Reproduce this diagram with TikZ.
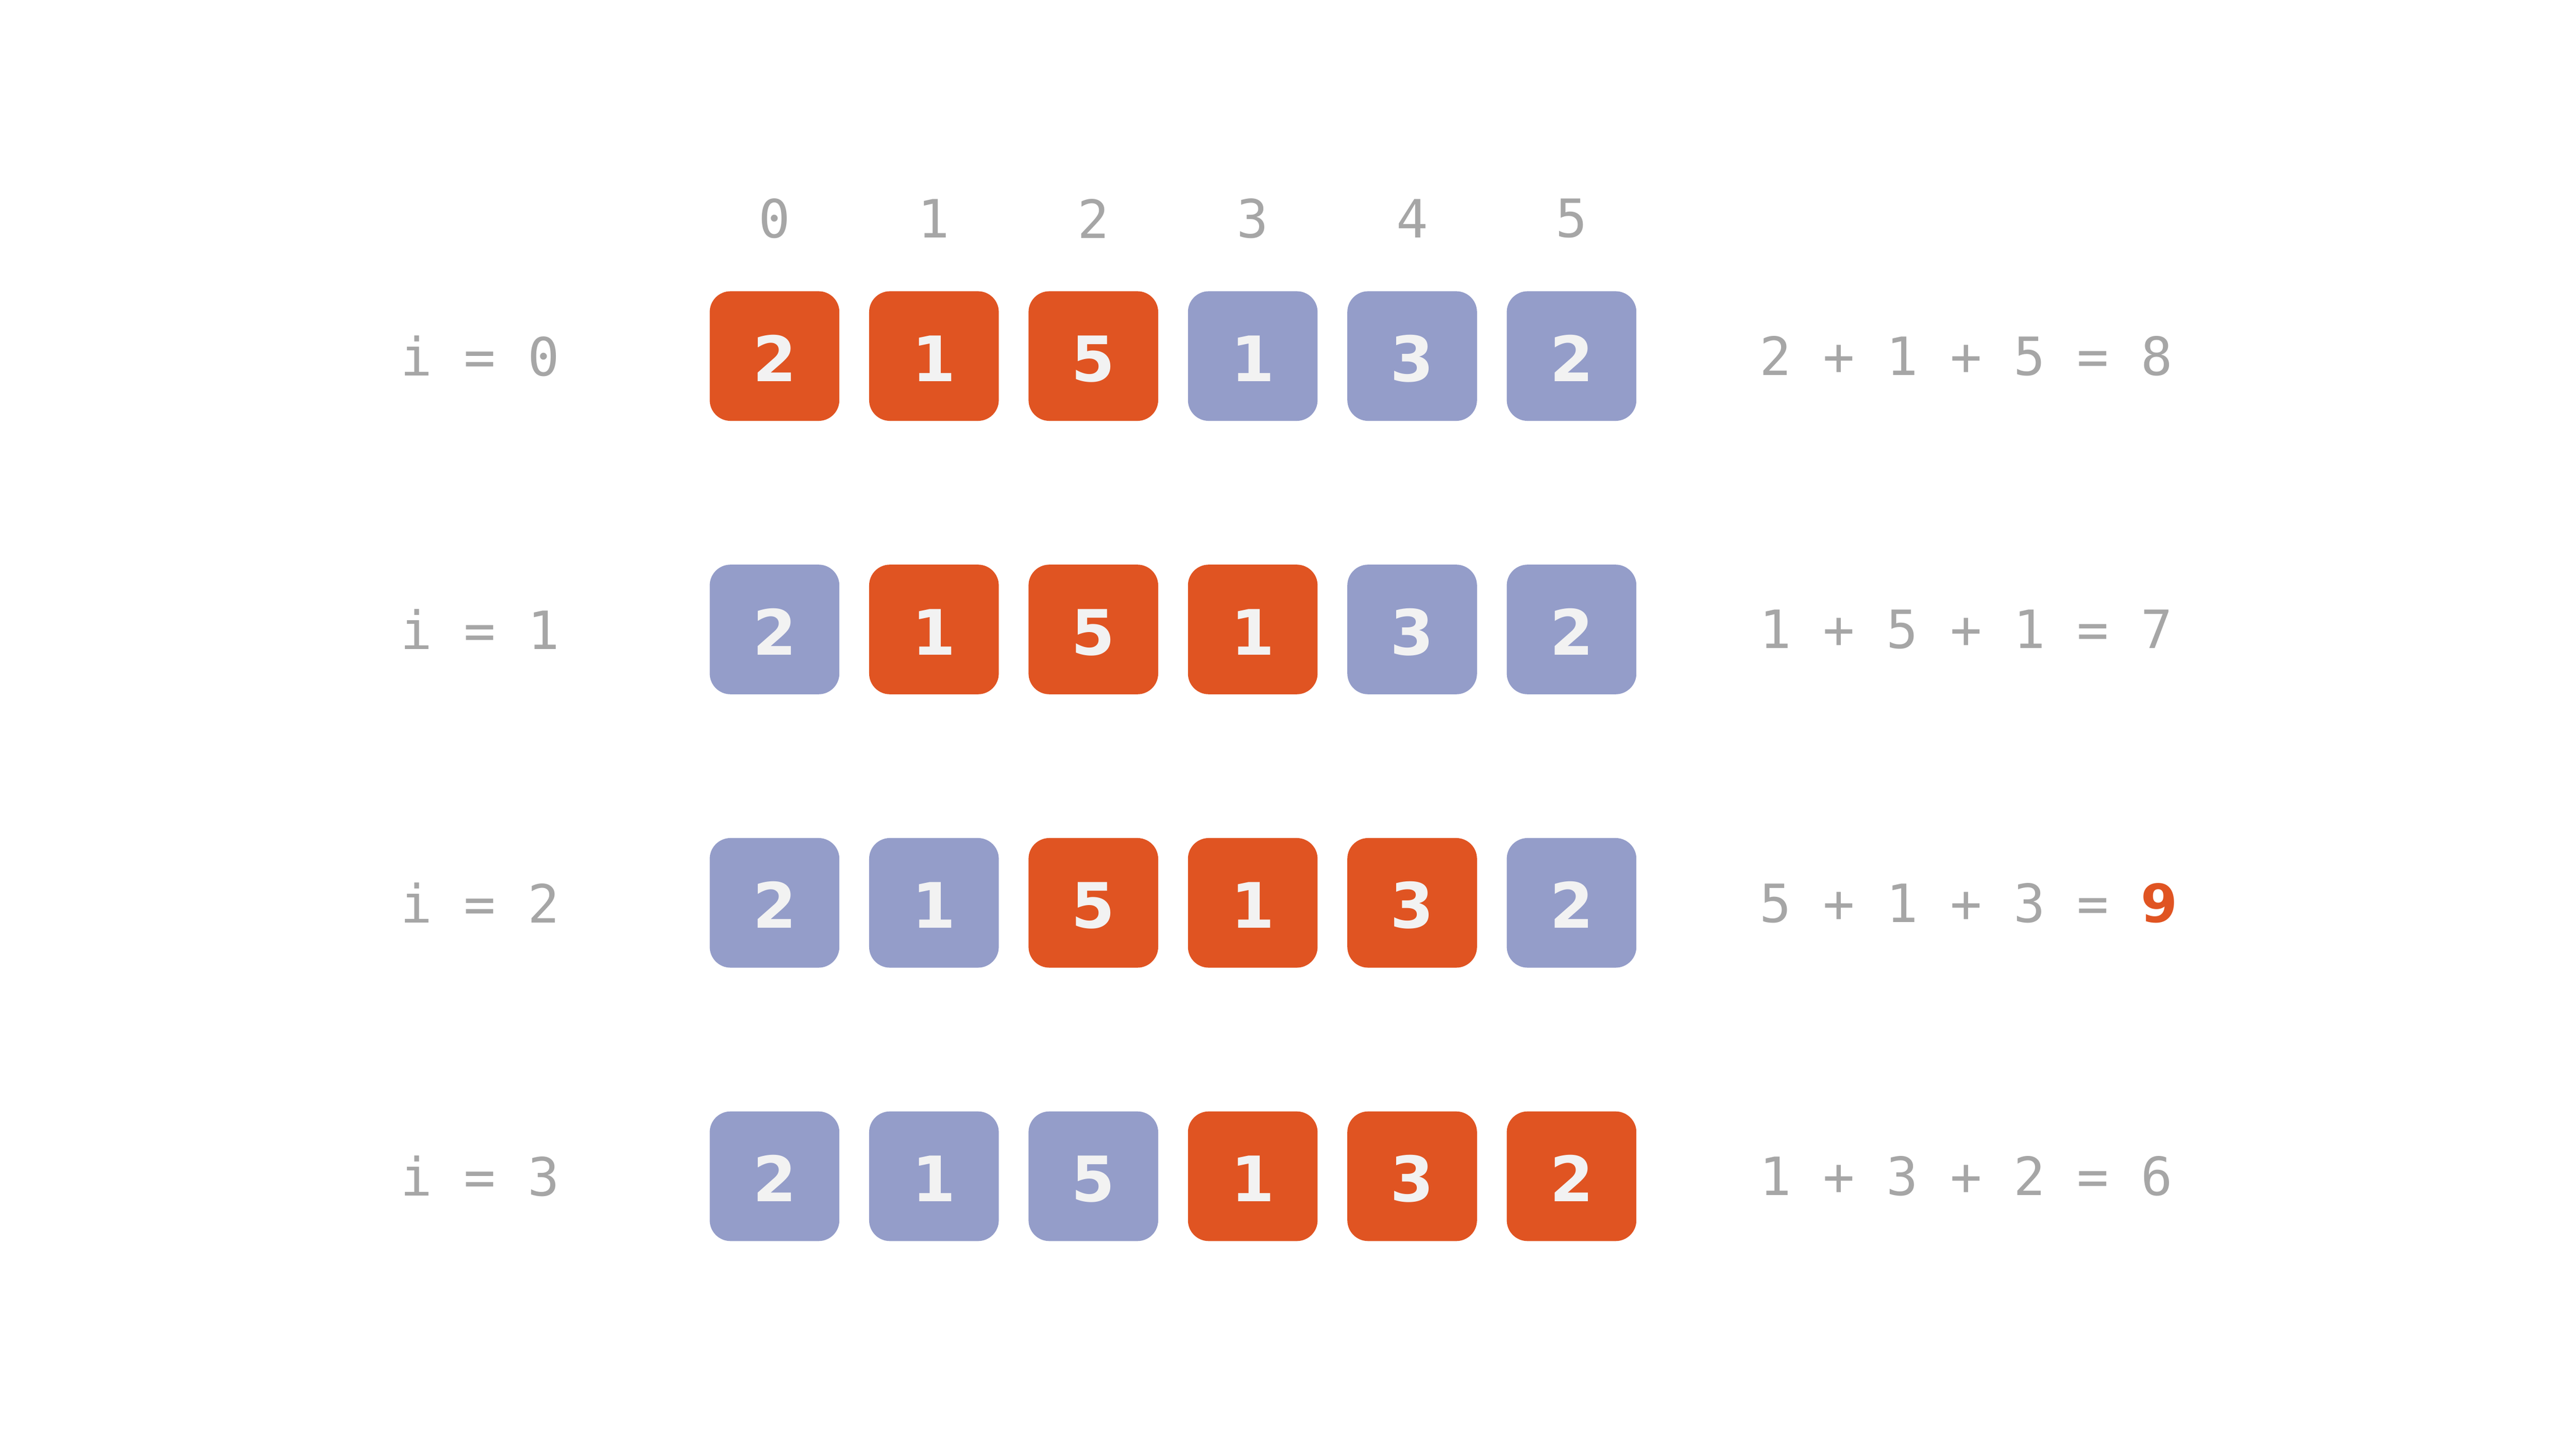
\documentclass[tikz,border=0pt]{standalone}
\usepackage{fontspec}
\newfontfamily\monofont{DejaVu Sans Mono}
\newfontfamily\boxfont{DejaVu Sans}
\definecolor{hotorange}{HTML}{E05422}
\definecolor{coldblue}{HTML}{949DC9}
\definecolor{labelgray}{HTML}{A6A6A6}
\definecolor{boxtext}{HTML}{F2F2F2}
\begin{document}
\begin{tikzpicture}[
    box/.style={minimum width=1.563cm, minimum height=1.563cm, rounded corners=0.25cm,
      inner sep=0pt, text height=0.61cm, text depth=0pt, text=boxtext,
      font=\boxfont\bfseries\fontsize{21.5pt}{21.5pt}\selectfont},
    hot/.style={box, fill=hotorange},
    cold/.style={box, fill=coldblue},
    lbl/.style={text=labelgray, inner sep=0pt, font=\monofont\fontsize{18.1pt}{18.1pt}\selectfont},
    sum/.style={lbl, anchor=west}
  ]
  \useasboundingbox (0,0) rectangle (31.06,-17.47);
  % column indices
  \draw
    (9.339,-2.634) node[lbl] (c0){0}
    (11.261,-2.634) node[lbl] (c1){1}
    (13.183,-2.634) node[lbl] (c2){2}
    (15.105,-2.634) node[lbl] (c3){3}
    (17.027,-2.634) node[lbl] (c4){4}
    (18.949,-2.634) node[lbl] (c5){5};
  % i = 0
  \draw
    (5.788,-4.294) node[lbl] (i0){i = 0}
    (9.339,-4.294) node[hot] (b00){2}
    (11.261,-4.294) node[hot] (b01){1}
    (13.183,-4.294) node[hot] (b02){5}
    (15.105,-4.294) node[cold] (b03){1}
    (17.027,-4.294) node[cold] (b04){3}
    (18.949,-4.294) node[cold] (b05){2}
    (21.209,-4.294) node[sum] (s0){2 + 1 + 5 = 8};
  % i = 1
  \draw
    (5.788,-7.591) node[lbl] (i1){i = 1}
    (9.339,-7.591) node[cold] (b10){2}
    (11.261,-7.591) node[hot] (b11){1}
    (13.183,-7.591) node[hot] (b12){5}
    (15.105,-7.591) node[hot] (b13){1}
    (17.027,-7.591) node[cold] (b14){3}
    (18.949,-7.591) node[cold] (b15){2}
    (21.209,-7.591) node[sum] (s1){1 + 5 + 1 = 7};
  % i = 2
  \draw
    (5.788,-10.888) node[lbl] (i2){i = 2}
    (9.339,-10.888) node[cold] (b20){2}
    (11.261,-10.888) node[cold] (b21){1}
    (13.183,-10.888) node[hot] (b22){5}
    (15.105,-10.888) node[hot] (b23){1}
    (17.027,-10.888) node[hot] (b24){3}
    (18.949,-10.888) node[cold] (b25){2}
    (21.209,-10.888) node[sum] (s2){5 + 1 + 3 = {\boxfont\bfseries\color{hotorange}9}};
  % i = 3
  \draw
    (5.788,-14.185) node[lbl] (i3){i = 3}
    (9.339,-14.185) node[cold] (b30){2}
    (11.261,-14.185) node[cold] (b31){1}
    (13.183,-14.185) node[cold] (b32){5}
    (15.105,-14.185) node[hot] (b33){1}
    (17.027,-14.185) node[hot] (b34){3}
    (18.949,-14.185) node[hot] (b35){2}
    (21.209,-14.185) node[sum] (s3){1 + 3 + 2 = 6};
\end{tikzpicture}
\end{document}
